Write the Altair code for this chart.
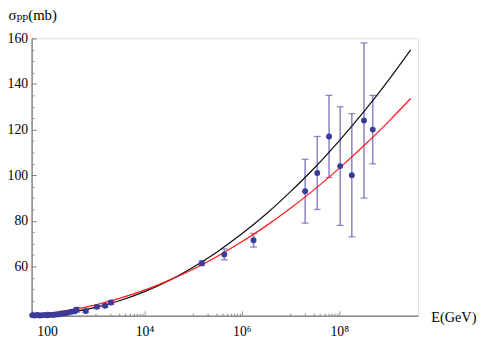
import altair as alt
import pandas as pd

# ---- measured points: energy (GeV), cross-section (mb), error (mb)
pt_E = [50, 56, 63, 70, 78, 91, 102, 115, 132, 150, 170, 190, 220, 250, 280, 320, 370, 400,
        620, 1050, 1550, 2050,
        1.51e5, 4.37e5, 1.74e6,
        2.0e7, 3.55e7, 6.2e7, 1.05e8, 1.82e8, 3.24e8, 4.9e8]
pt_s = [38.6, 38.5, 38.7, 38.5, 38.6, 38.7, 38.6, 38.8, 38.7, 38.9, 39.0, 39.3, 39.4, 39.6, 39.9, 40.2, 40.4, 41.0,
        40.5, 42.3, 42.8, 44.2,
        61.4, 65.3, 71.5,
        93.0, 101.0, 117.0, 104.0, 100.0, 124.0, 120.0]
pt_err = [0.4, 0.4, 0.4, 0.4, 0.4, 0.4, 0.4, 0.4, 0.4, 0.4, 0.4, 0.4, 0.4, 0.5, 0.5, 0.5, 0.6, 1.0,
          0.6, 0.6, 0.6, 0.8,
          1.0, 2.4, 3.0,
          14.0, 16.0, 18.0, 26.0, 27.0, 34.0, 15.0]

# ---- two model curves
curve_E = [50, 100, 316, 1000, 3162, 1e4, 3.162e4, 1e5, 3.162e5, 1e6, 3.162e6,
           1e7, 3.162e7, 1e8, 3.162e8, 1e9, 2.95e9]
black_s = [39.0, 39.1, 40.1, 42.1, 45.1, 49.0, 53.8, 59.7, 66.5, 74.3, 83.0,
           92.8, 103.4, 115.1, 127.7, 141.3, 155.0]
red_s = [39.0, 39.6, 41.0, 43.2, 46.1, 49.6, 53.9, 58.8, 64.5, 70.8, 77.8,
         85.5, 93.9, 103.0, 112.8, 123.2, 133.7]

x_major = [100, 1e4, 1e6, 1e8]
x_minor = [1000, 2000, 3000, 4000, 5000, 6000, 7000, 8000, 9000,
           1e5, 2e5, 3e5, 4e5, 5e5, 6e5, 7e5, 8e5, 9e5,
           1e7, 2e7, 3e7, 4e7, 5e7, 6e7, 7e7, 8e7, 9e7]
y_major = [60, 80, 100, 120, 140, 160]
y_minor = [40, 45, 50, 55, 65, 70, 75, 85, 90, 95, 105, 110, 115, 125, 130, 135, 145, 150, 155]

W, H = 393, 282
XDOM = [47.9, 4.17e9]
YDOM = [38.45, 160]
FONT = "'Times New Roman', 'Liberation Serif', 'DejaVu Serif', serif"

pts = pd.DataFrame({"E": pt_E, "s": pt_s, "err": pt_err})
pts["lo"] = pts["s"] - pts["err"]
pts["hi"] = pts["s"] + pts["err"]
curves = pd.DataFrame({
    "E": curve_E * 2,
    "s": black_s + red_s,
    "model": ["black"] * len(curve_E) + ["red"] * len(curve_E),
})

xs = alt.Scale(type="log", domain=XDOM, nice=False)
ys = alt.Scale(domain=YDOM, nice=False, zero=False)

x_axis = alt.Axis(
    values=x_major, grid=False, ticks=False, tickSize=0, labelPadding=9,
    labelExpr="datum.value == 100 ? '100' : datum.value == 10000 ? '10⁴' : datum.value == 1000000 ? '10⁶' : '10⁸'",
    labelFont=FONT, labelFontSize=14, labelColor="black", labelFlush=False,
    domainColor="#555555", domainWidth=1,
    title="E(GeV)", titleFont=FONT, titleFontSize=14.5, titleFontWeight="normal",
    titleColor="black", titleAlign="left", titleBaseline="middle",
    titleX=W + 13, titleY=2, titleAngle=0,
)
y_axis = alt.Axis(
    values=y_major, grid=False, ticks=False, tickSize=0, labelPadding=4,
    labelFont=FONT, labelFontSize=14, labelColor="black",
    domainColor="#555555", domainWidth=1,
    title="σₚₚ(mb)", titleFont=FONT, titleFontSize=15, titleFontWeight="normal",
    titleColor="black", titleAngle=0, titleAlign="left", titleBaseline="alphabetic",
    titleX=-24, titleY=-19,
)

bars = alt.Chart(pts).mark_rule(color="#8c8cc8", strokeWidth=1.6).encode(
    x=alt.X("E:Q", scale=xs, axis=x_axis), y=alt.Y("lo:Q", scale=ys, axis=y_axis), y2="hi:Q")
cap_lo = alt.Chart(pts).mark_tick(color="#5c5caa", orient="horizontal", size=7, thickness=1.3).encode(
    x=alt.X("E:Q", scale=xs, axis=x_axis), y=alt.Y("lo:Q", scale=ys, axis=y_axis))
cap_hi = alt.Chart(pts).mark_tick(color="#5c5caa", orient="horizontal", size=7, thickness=1.3).encode(
    x=alt.X("E:Q", scale=xs, axis=x_axis), y=alt.Y("hi:Q", scale=ys, axis=y_axis))
dots = alt.Chart(pts).mark_circle(color="#3a3a98", opacity=1, size=36).encode(
    x=alt.X("E:Q", scale=xs, axis=x_axis), y=alt.Y("s:Q", scale=ys, axis=y_axis))
lines = alt.Chart(curves).mark_line(interpolate="monotone", strokeWidth=1.25).encode(
    x=alt.X("E:Q", scale=xs, axis=x_axis), y=alt.Y("s:Q", scale=ys, axis=y_axis),
    color=alt.Color("model:N", scale=alt.Scale(domain=["black", "red"], range=["#111111", "#ff1a1a"]), legend=None),
    order=alt.Order("model:N", sort="descending"),
)

data_layer = alt.layer(bars, cap_lo, cap_hi, lines, dots)

tick_df = pd.DataFrame({"E": [1000], "s": [100]})

def tick_layer(xv, yv, xsize, ysize, xcol, ycol):
    return alt.Chart(tick_df).mark_point(opacity=0).encode(
        x=alt.X("E:Q", scale=alt.Scale(type="log", domain=XDOM, nice=False),
                axis=alt.Axis(orient="top", offset=-H, values=xv, labels=False, domain=False,
                              grid=False, tickSize=xsize, tickColor=xcol, tickWidth=1, title=None)),
        y=alt.Y("s:Q", scale=alt.Scale(domain=YDOM, nice=False, zero=False),
                axis=alt.Axis(orient="right", offset=-W, values=yv, labels=False, domain=False,
                              grid=False, tickSize=ysize, tickColor=ycol, tickWidth=1, title=None)),
    )

major_ticks = tick_layer(x_major, y_major, 5, 4.5, "#9a9a9a", "#777777")
minor_ticks = tick_layer(x_minor, y_minor, 2.5, 2.5, "#8a8a8a", "#8a8a8a")

chart = alt.layer(data_layer, major_ticks, minor_ticks).resolve_scale(
    x="independent", y="independent"
).properties(
    width=W, height=H, autosize="none",
    padding={"left": 24, "top": 28, "right": 60, "bottom": 28},
).configure_view(stroke=None).configure(
    background="white", font=FONT
).configure_axis(
    labelFont=FONT, titleFont=FONT, labelFontSize=14, titleFontWeight="normal"
)

chart.save("out.html", embed_options={"renderer": "svg", "actions": False})
